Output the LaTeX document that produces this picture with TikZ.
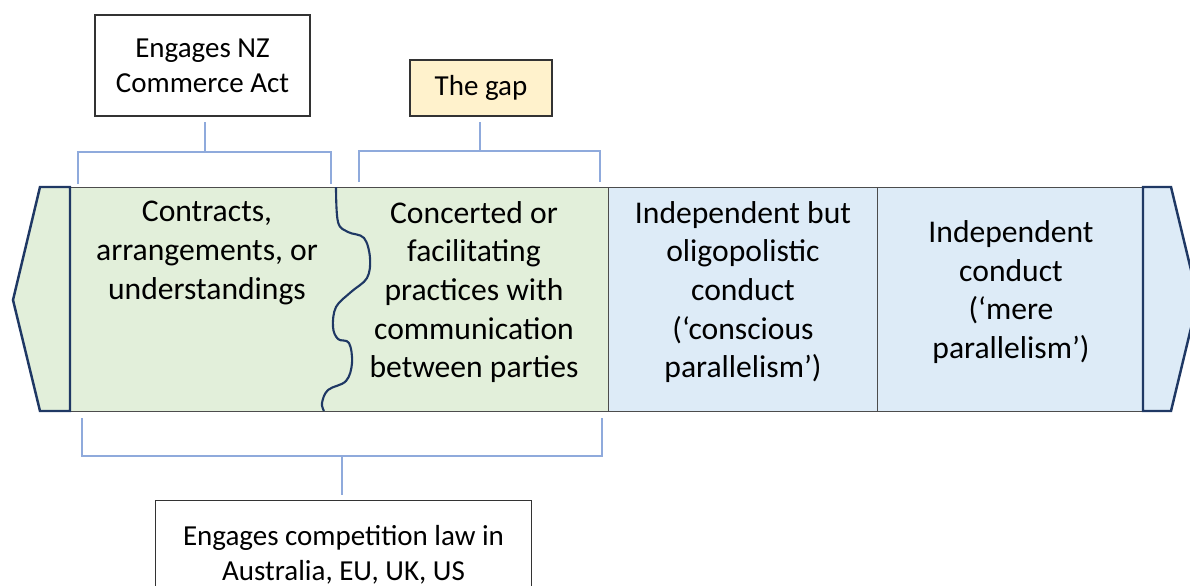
\documentclass[tikz,border=0pt]{standalone}
\usepackage{fontspec}
\setmainfont{Carlito}
\usepackage{tikz}
\usetikzlibrary{positioning}
\definecolor{cellgreen}{HTML}{E2EFDA}
\definecolor{cellblue}{HTML}{DDEBF7}
\definecolor{capnavy}{HTML}{1F3864}
\definecolor{brackblue}{HTML}{8FAADC}
\definecolor{gapyellow}{HTML}{FFF2CC}

\begin{document}
\begin{tikzpicture}[x=0.02cm, y=-0.02cm,
  cell/.style={align=center, font=\fontsize{18}{22}\selectfont},
  lawbox/.style={draw=black!80, line width=0.6pt, align=center, font=\fontsize{16.5}{20}\selectfont},
  endcap/.style={draw=capnavy, line width=1.4pt, line join=miter},
  bracket/.style={draw=brackblue, line width=0.9pt}]
\useasboundingbox (0,0) rectangle (1190,585);

% the band of conduct
\fill [cellgreen] (70,187) rectangle (608,411);
\fill [cellblue] (608,187) rectangle (1143,411);
\draw [black!70, line width=0.5pt] (70,187) -- (1143,187) (70,411) -- (1143,411)
      (608,187) -- (608,411) (877,187) -- (877,411);
\draw [endcap, fill=cellgreen] (70,187) -- (40,187) -- (13,300) -- (40,411) -- (70,411) -- cycle;
\draw [endcap, fill=cellblue] (1143,187) -- (1171,187) -- (1198,299) -- (1171,411) -- (1143,411) -- cycle;
\draw [capnavy, line width=1.2pt] plot [smooth, tension=0.6] coordinates {
  (336,187) (338,222) (348,232) (364,238) (370,258) (367,278) (351,292) (336,307)
  (333,327) (338,339) (349,343) (352,363) (346,381) (328,390) (322,403) (324,411)};

\node [cell] (cau) at (207,253) {Contracts,\\arrangements, or\\understandings};
\node [cell] (conc) at (474,292) {Concerted or\\facilitating\\practices with\\communication\\between parties};
\node [cell] (olig) at (743,292) {Independent but\\oligopolistic\\conduct\\(‘conscious\\parallelism’)};
\node [cell] (indep) at (1011,292) {Independent\\conduct\\(‘mere\\parallelism’)};

% labels and brackets
\node [lawbox, minimum width=4.3cm, minimum height=2.02cm] (nzact) at (202.5,65.5) {Engages NZ\\Commerce Act};
\node [lawbox, fill=gapyellow, minimum width=2.84cm, minimum height=1.12cm] (gap) at (481,88) {The gap};
\node [lawbox, minimum width=7.54cm, minimum height=2.16cm, anchor=north] (complaw) at (343.5,500)
      {Engages competition law in\\Australia, EU, UK, US};

\coordinate (nzmid) at (205,152);
\draw [bracket] (78,184) |- (nzmid) -| (331,184);
\draw [bracket] (nzmid) -- ([yshift=-0.1cm]nzact.south -| nzmid);
\coordinate (gapmid) at (480,151);
\draw [bracket] (359,182) |- (gapmid) -| (600,182);
\draw [bracket] (gapmid) -- ([yshift=-0.1cm]gap.south -| gapmid);
\coordinate (lawmid) at (342,456);
\draw [bracket] (82,418) |- (lawmid) -| (602,418);
\draw [bracket] (lawmid) -- ([yshift=0.1cm]complaw.north -| lawmid);
\end{tikzpicture}
\end{document}
